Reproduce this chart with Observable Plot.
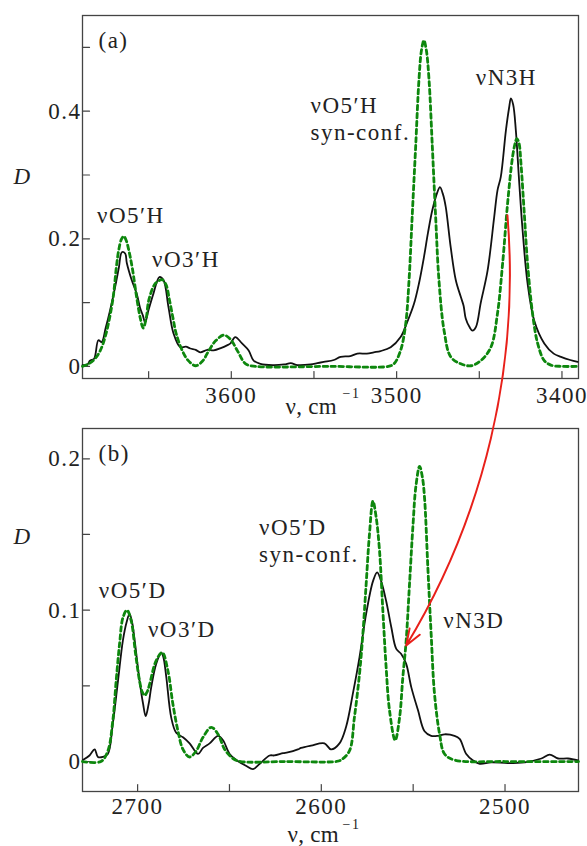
<!DOCTYPE html>
<html><head><meta charset="utf-8">
<script src="https://cdn.jsdelivr.net/npm/d3@7"></script>
<script src="https://cdn.jsdelivr.net/npm/@observablehq/plot@0.6"></script>
<style>
html,body{margin:0;padding:0;background:#fff;overflow:hidden}
#chart svg{display:block}
</style>
</head><body><div id="chart"></div>
<script>
// ---------- DATA (wavenumber cm^-1, optical density D) ----------
const expA = [[3690,0.002],[3687,0.003],[3685.5,0.009],[3683,0.012],[3680.4,0.041],[3678.4,0.038],[3676,0.060],[3673.3,0.088],[3670.3,0.124],[3668,0.155],[3666.2,0.179],[3664.2,0.177],[3663.2,0.162],[3660.2,0.135],[3657.2,0.114],[3655.2,0.092],[3653.5,0.080],[3652.1,0.069],[3650.1,0.088],[3647.1,0.114],[3643.5,0.140],[3641.0,0.135],[3638.0,0.093],[3635.0,0.052],[3630.9,0.030],[3627.5,0.031],[3624.8,0.028],[3621.5,0.026],[3618.8,0.022],[3614.5,0.026],[3610.7,0.025],[3606,0.029],[3602.6,0.033],[3600.5,0.036],[3597.6,0.046],[3593.5,0.036],[3589.5,0.025],[3586.5,0.009],[3582.4,0.004],[3575,0.002],[3568,0.003],[3564,0.005],[3560,0.002],[3552,0.003],[3548,0.005],[3544.1,0.007],[3538,0.010],[3533.9,0.015],[3528,0.016],[3523.8,0.020],[3518,0.020],[3513.8,0.022],[3509.7,0.024],[3503.6,0.030],[3497.6,0.046],[3493.5,0.070],[3489.5,0.098],[3486.5,0.130],[3483.5,0.171],[3481,0.210],[3478.4,0.245],[3475.5,0.272],[3473.8,0.281],[3472,0.270],[3470.3,0.250],[3467.3,0.187],[3464.2,0.135],[3461.2,0.109],[3459.5,0.095],[3458.2,0.075],[3456,0.062],[3454.1,0.056],[3452,0.062],[3449.1,0.100],[3445.0,0.150],[3441.0,0.234],[3439.0,0.276],[3437.0,0.297],[3433.9,0.370],[3432,0.405],[3430.9,0.420],[3429.5,0.410],[3427.9,0.370],[3425.9,0.290],[3423.8,0.213],[3420.8,0.130],[3416.8,0.072],[3410.7,0.036],[3405,0.020],[3400.6,0.015],[3395,0.010],[3390.5,0.007]];

const fitA = [[3690,0],[3686.2,0.004],[3682.5,0.012],[3679.2,0.025],[3675.8,0.051],[3671.7,0.104],[3669.5,0.156],[3668.1,0.182],[3666.5,0.199],[3665.0,0.204],[3663.5,0.197],[3662.0,0.182],[3660.0,0.156],[3657.0,0.104],[3655,0.075],[3653.3,0.060],[3651.5,0.075],[3649.9,0.104],[3646.5,0.128],[3644.5,0.133],[3642,0.136],[3639.5,0.128],[3637.4,0.104],[3635.3,0.076],[3633.3,0.051],[3629.7,0.025],[3626,0.009],[3621.6,0.001],[3617.5,0.008],[3613.5,0.025],[3609.5,0.040],[3604.4,0.049],[3600.4,0.042],[3596.4,0.025],[3591.3,0.004],[3585,0],[3540,0],[3505,0],[3501.6,0.004],[3497.6,0.025],[3494.5,0.067],[3492.5,0.135],[3490.5,0.240],[3488.5,0.344],[3486.5,0.449],[3485,0.495],[3483.5,0.511],[3482,0.495],[3480.4,0.449],[3478.4,0.344],[3476.4,0.234],[3474.4,0.135],[3471.3,0.056],[3467.3,0.015],[3461.2,0.004],[3455,0.001],[3449.1,0.009],[3443.0,0.030],[3439.0,0.083],[3435.9,0.161],[3432.9,0.255],[3429.9,0.328],[3428.3,0.350],[3427.3,0.357],[3426,0.350],[3424.8,0.318],[3422.8,0.240],[3420.8,0.161],[3417.8,0.083],[3414.7,0.036],[3410.7,0.009],[3406.7,0.002],[3400,0],[3390,0]];

const expB = [[2729.8,0.001],[2726.2,0.004],[2723.4,0.008],[2721.6,0.003],[2718.9,0.003],[2716.2,0.005],[2713.5,0.025],[2710.7,0.053],[2708.0,0.080],[2706,0.092],[2704.4,0.0975],[2703,0.092],[2701.6,0.080],[2698.9,0.053],[2697,0.038],[2695.6,0.030],[2694,0.038],[2692.6,0.049],[2689.9,0.0645],[2687.1,0.072],[2686,0.069],[2684.4,0.056],[2681.7,0.029],[2679.0,0.019],[2675.3,0.016],[2671.7,0.012],[2667.1,0.005],[2664.4,0.009],[2660.8,0.012],[2656.2,0.017],[2653.5,0.014],[2649.9,0.005],[2646.3,0.001],[2640.8,-0.003],[2637.2,-0.005],[2633.5,-0.0015],[2628.1,0.004],[2625.6,0.004],[2620.8,0.0055],[2618.3,0.006],[2612.8,0.008],[2611.0,0.009],[2605.6,0.0105],[2598.3,0.012],[2594.7,0.008],[2590.1,0.012],[2586.5,0.023],[2582.8,0.045],[2579.2,0.069],[2575.6,0.0975],[2571.9,0.119],[2569.6,0.125],[2567.4,0.119],[2564.7,0.106],[2561.9,0.0887],[2559.2,0.0744],[2556.5,0.071],[2553.8,0.0645],[2551.0,0.049],[2547.4,0.034],[2543.8,0.020],[2540.2,0.017],[2536.5,0.017],[2532.9,0.018],[2527.5,0.017],[2524.7,0.015],[2521.1,0.005],[2517.4,0.0007],[2513.8,-0.0015],[2507.5,-0.0005],[2498.4,-0.001],[2489.3,-0.0005],[2480.2,0.002],[2475.7,0.0046],[2471.1,0.002],[2465.7,0.002],[2460.2,0.0007]];

const fitB = [[2730,0],[2720,0],[2716.2,0.007],[2713.5,0.027],[2711.7,0.053],[2709.8,0.078],[2708.0,0.095],[2705.8,0.100],[2703.5,0.093],[2701.1,0.071],[2698.9,0.053],[2697.5,0.046],[2696.2,0.0436],[2694.8,0.046],[2693.5,0.051],[2689.9,0.0667],[2686.6,0.072],[2683.5,0.060],[2680.8,0.038],[2678.0,0.020],[2675.3,0.008],[2671.7,0.003],[2668.1,0.007],[2664.4,0.016],[2659.9,0.0226],[2656.2,0.018],[2652.6,0.008],[2648.1,0.002],[2644,0],[2620,0],[2592,0],[2589.3,0.001],[2584.7,0.007],[2582.0,0.029],[2579.2,0.058],[2577.4,0.084],[2575.6,0.117],[2573.8,0.150],[2571.9,0.172],[2570.1,0.161],[2568.3,0.139],[2566.5,0.0997],[2564.7,0.062],[2562.9,0.034],[2559.8,0.014],[2557.4,0.029],[2555.6,0.056],[2553.8,0.080],[2552.0,0.117],[2550.1,0.156],[2548.5,0.182],[2546.5,0.195],[2545,0.188],[2543.8,0.174],[2542.0,0.128],[2540.2,0.084],[2538.4,0.045],[2535.6,0.018],[2532.9,0.005],[2527.5,0.001],[2500,0],[2460,0]];

const xDomA = [3690, 3390], yDomA = [-0.019, 0.55];
const xDomB = [2730, 2460], yDomB = [-0.0198, 0.22];
const xMajorA = [3600, 3500, 3400], xMinorA = [3650, 3600, 3550, 3500, 3450, 3400];
const yMajorA = [0, 0.2, 0.4], yMinorA = [0, 0.1, 0.2, 0.3, 0.4, 0.5];
const xMajorB = [2700, 2600, 2500], xMinorB = [2700, 2650, 2600, 2550, 2500];
const yMajorB = [0, 0.1, 0.2], yMinorB = [0, 0.05, 0.1, 0.15, 0.2];

const labelsA = [
  {x: 3681.2, y: 0.224, text: "νO5′H"},
  {x: 3647.9, y: 0.155, text: "νO3′H"},
  {x: 3552.1, y: 0.355, text: "νO5′H\nsyn-conf."},
  {x: 3452.1, y: 0.441, text: "νN3H"}
];
const labelsB = [
  {x: 2721.1, y: 0.108, text: "νO5′D"},
  {x: 2694.4, y: 0.082, text: "νO3′D"},
  {x: 2633.9, y: 0.132, text: "νO5′D\nsyn-conf."},
  {x: 2533.6, y: 0.088, text: "νN3D"}
];
// arrow: from the νN3H band in (a) to the νN3D shoulder in (b)
const arrowFromA = {x: 3433, y: 0.237};
const arrowToB = {x: 2553.8, y: 0.0766};

// ---------- STYLE ----------
const FONT = "'Liberation Serif', 'Times New Roman', serif";
const FS = 23;
const INK = "#222";
const FRAME = "#444";
const GREEN = "#0d870d";
const tickLine = {draw(ctx, l) { ctx.moveTo(0, 0); ctx.lineTo(0, -l); }};

function panel({width, height, mt, mb, xDom, yDom, xMaj, xMin, yMaj, yMin, exp, fit, labels, tag, xPad, titleDy, supDy, titleDx, dDy, extra = [], overflow = false}) {
  return Plot.plot({
    width, height, marginLeft: 82, marginRight: 9, marginTop: mt, marginBottom: mb,
    x: {domain: xDom}, y: {domain: yDom},
    style: {fontFamily: FONT, fontSize: FS + "px", color: INK, background: "transparent", overflow: overflow ? "visible" : "hidden", letterSpacing: "1.5px"},
    marks: [
      Plot.frame({stroke: FRAME, strokeWidth: 1.3}),
      Plot.vector(xMin, {x: d => d, frameAnchor: "bottom", length: 7, rotate: 0, anchor: "start", shape: tickLine, stroke: FRAME, strokeWidth: 1.2}),
      Plot.vector(yMin, {y: d => d, frameAnchor: "left", length: 7, rotate: 90, anchor: "start", shape: tickLine, stroke: FRAME, strokeWidth: 1.2}),
      Plot.axisX(xMaj, {tickSize: 0, tickPadding: xPad, fontSize: FS, label: null, tickFormat: d => `${d}`}),
      Plot.axisY(yMaj, {tickSize: 0, tickPadding: 1, fontSize: FS, label: null, tickFormat: d => `${d}`}),
      Plot.line(exp, {x: d => d[0], y: d => d[1], stroke: "#111", strokeWidth: 1.8, curve: "catmull-rom"}),
      Plot.line(fit, {x: d => d[0], y: d => d[1], stroke: GREEN, strokeWidth: 2.8, strokeDasharray: "4.5,3.5", curve: "catmull-rom"}),
      Plot.text(labels, {x: "x", y: "y", text: "text", textAnchor: "start", lineAnchor: "bottom", lineHeight: 1.18, fontSize: FS, fill: INK}),
      Plot.text([tag], {text: d => d, frameAnchor: "top-left", dx: 16, dy: 32, textAnchor: "start", lineAnchor: "bottom", fontSize: FS, fill: INK}),
      Plot.text(["D"], {text: d => d, frameAnchor: "top-left", dx: -69, dy: dDy, textAnchor: "start", lineAnchor: "bottom", fontSize: FS, fontStyle: "italic", fill: INK}),
      Plot.text(["ν, cm"], {text: d => d, frameAnchor: "bottom-left", dx: titleDx, dy: titleDy, textAnchor: "start", lineAnchor: "bottom", fontSize: FS, fill: INK}),
      Plot.text(["−1"], {text: d => d, frameAnchor: "bottom-left", dx: 260, dy: supDy, textAnchor: "start", lineAnchor: "bottom", fontSize: 14, fill: INK}),
      ...extra
    ]
  });
}

const HA = 420, HB = 426;
const optsA = {width: 587, height: HA, mt: 15, mb: 42, xDom: xDomA, yDom: yDomA, xMaj: xMajorA, xMin: xMinorA, yMaj: yMajorA, yMin: yMinorA, exp: expA, fit: fitA, labels: labelsA, tag: "(a)", xPad: 8, titleDx: 203, titleDy: 35, supDy: 19, dDy: 168};
const optsB = {width: 587, height: HB, mt: 8, mb: 55, xDom: xDomB, yDom: yDomB, xMaj: xMajorB, xMin: xMinorB, yMaj: yMajorB, yMin: yMinorB, exp: expB, fit: fitB, labels: labelsB, tag: "(b)", xPad: 6, titleDx: 205, titleDy: 50, supDy: 37, dDy: 115, overflow: true};

const pa = panel(optsA);
const pb0 = panel(optsB);
// translate the arrow start from panel (a) coordinates into panel (b) coordinates
const px = pa.scale("x").apply(arrowFromA.x);
const py = pa.scale("y").apply(arrowFromA.y) - HA;
const arrowData = [{x1: pb0.scale("x").invert(px), y1: pb0.scale("y").invert(py), x2: arrowToB.x, y2: arrowToB.y}];
const pb = panel({...optsB, extra: [
  Plot.arrow(arrowData, {x1: "x1", y1: "y1", x2: "x2", y2: "y2", bend: 18, stroke: "#e8201a", strokeWidth: 2, headLength: 13, headAngle: 40})
]});

// the axis-title text uses tighter spacing than the other labels
for (const svg of [pa, pb]) {
  for (const t of svg.querySelectorAll("text")) if (t.textContent === "ν, cm") t.style.letterSpacing = "0.3px";
}

const root = document.getElementById("chart");
root.append(pa, pb);
</script>
</body></html>
